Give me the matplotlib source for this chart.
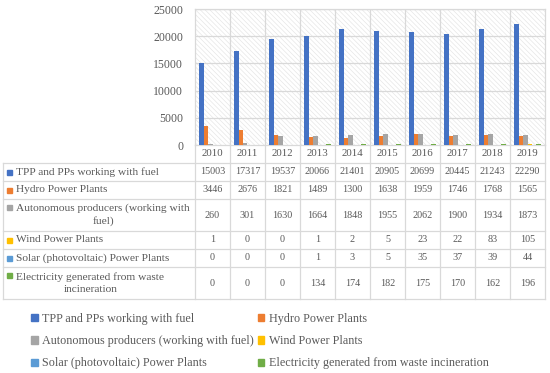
import matplotlib.pyplot as plt
import numpy as np
from matplotlib.patches import Patch, Rectangle

plt.rcParams["font.family"] = ["Liberation Serif", "DejaVu Serif"]
plt.rcParams["hatch.linewidth"] = 0.45

years = ["2010", "2011", "2012", "2013", "2014", "2015", "2016", "2017", "2018", "2019"]
series = [
    "TPP and PPs working with fuel",
    "Hydro Power Plants",
    "Autonomous producers (working with fuel)",
    "Wind Power Plants",
    "Solar (photovoltaic) Power Plants",
    "Electricity generated from waste incineration",
]
row_labels = [
    "TPP and PPs working with fuel",
    "Hydro Power Plants",
    "Autonomous producers (working with\nfuel)",
    "Wind Power Plants",
    "Solar (photovoltaic) Power Plants",
    "Electricity generated from waste\nincineration",
]
tpp = [15003, 17317, 19537, 20066, 21401, 20905, 20699, 20445, 21243, 22290]
hydro = [3446, 2676, 1821, 1489, 1300, 1638, 1959, 1746, 1768, 1565]
autonomous = [260, 301, 1630, 1664, 1848, 1955, 2062, 1900, 1934, 1873]
wind = [1, 0, 0, 1, 2, 5, 23, 22, 83, 105]
solar = [0, 0, 0, 1, 3, 5, 35, 37, 39, 44]
waste = [0, 0, 0, 134, 174, 182, 175, 170, 162, 196]
values = [tpp, hydro, autonomous, wind, solar, waste]
colors = ["#4472C4", "#ED7D31", "#A5A5A5", "#FFC000", "#5B9BD5", "#70AD47"]

W, H = 550, 373
txt = "#595959"
grid = "#d9d9d9"

fig = plt.figure(figsize=(W / 100, H / 100), dpi=100)

# chart area (pixel layout of the original)
left, right, top, base = 195, 545, 9, 145
ax = fig.add_axes([left / W, 1 - base / H, (right - left) / W, (base - top) / H])
ax.set_xlim(-0.5, len(years) - 0.5)
ax.set_ylim(0, 25000)
ax.add_patch(Rectangle((0, 0), 1, 1, transform=ax.transAxes, facecolor="white",
                       edgecolor="#e4e4e4", hatch="\\" * 7, lw=0, zorder=0))

x = np.arange(len(years))
bw = 0.128
for k, (vals, c) in enumerate(zip(values, colors)):
    ax.bar(x + (k - 2.5) * bw, vals, width=bw, color=c, zorder=3)

ax.set_yticks(range(0, 25001, 5000))
ax.set_xticks(np.arange(0.5, len(years) - 0.5, 1), minor=True)
ax.set_xticks([])
ax.grid(axis="y", color=grid, lw=0.9, zorder=1)
ax.grid(axis="x", which="minor", color=grid, lw=0.9, zorder=1)
ax.tick_params(axis="y", length=0, pad=8.6, labelsize=8.5, labelcolor=txt)
ax.tick_params(axis="x", which="both", length=0)
for s in ax.spines.values():
    s.set_color(grid)
    s.set_linewidth(0.9)
ax.spines["bottom"].set_visible(False)

# data table drawn on a pixel overlay
tb = fig.add_axes([0, 0, 1, 1], zorder=-1)
tb.set_xlim(0, W)
tb.set_ylim(H, 0)
tb.axis("off")
tab_left = 3
col_w = (right - left) / len(years)
row_edges = [163, 181, 199, 231, 249, 267, 299]
lc = dict(color=grid, lw=0.9)

tb.plot([left, right], [base, base], **lc)
for r in row_edges:
    tb.plot([tab_left, right], [r, r], **lc)
tb.plot([tab_left, tab_left], [row_edges[0], row_edges[-1]], **lc)
for i in range(len(years) + 1):
    xc = left + i * col_w
    tb.plot([xc, xc], [base, row_edges[-1]], **lc)

for i, yr in enumerate(years):
    tb.text(left + (i + 0.5) * col_w, (base + row_edges[0]) / 2, yr,
            ha="center", va="center", fontsize=7.8, color=txt)

for j, (lab, vals, c) in enumerate(zip(row_labels, values, colors)):
    y0, y1 = row_edges[j], row_edges[j + 1]
    yc = (y0 + y1) / 2
    first = yc - 7.5 if "\n" in lab else yc
    tb.add_patch(Rectangle((7, first - 2.5), 5, 5, color=c))
    tb.text(16.5, yc, lab, ha="left", va="center", multialignment="center",
            fontsize=8.2, color=txt, linespacing=1.35)
    for i, v in enumerate(vals):
        tb.text(left + (i + 0.5) * col_w, yc, str(v), ha="center", va="center",
                fontsize=7.3, color=txt)

order = [0, 2, 4, 1, 3, 5]
handles = [Patch(color=colors[k]) for k in order]
fig.legend(handles, [series[k] for k in order], ncol=2, loc="upper left",
           bbox_to_anchor=(20 / W, 1 - 302 / H), frameon=False, fontsize=8.7,
           handlelength=0.55, handleheight=0.55, handletextpad=0.4,
           columnspacing=0.3, labelspacing=0.85, labelcolor=txt)

fig.savefig("out.png", dpi=100)
